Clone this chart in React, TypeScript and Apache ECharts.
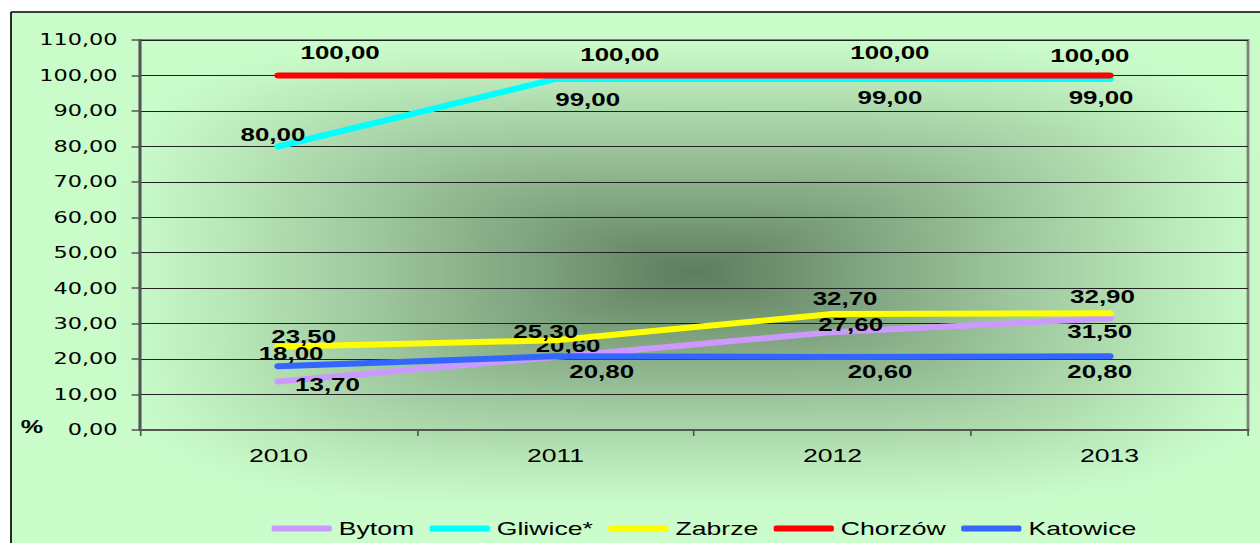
import React, { useEffect, useRef } from "react";
import * as echarts from "echarts";

// ---- data ----
const years = ["2010", "2011", "2012", "2013"];
const seriesNames = ["Bytom", "Gliwice*", "Zabrze", "Chorzów", "Katowice"];
const bytom = [13.7, 20.6, 27.6, 31.5];
const gliwice = [80, 99, 99, 99];
const zabrze = [23.5, 25.3, 32.7, 32.9];
const chorzow = [100, 100, 100, 100];
const katowice = [18, 20.8, 20.6, 20.8];
const yMin = 0;
const yMax = 110;
const yStep = 10;

// ---- layout / style (chart coordinates, stretched by SX afterwards) ----
const SX = 1.4;
const CW = 900;
const CH = 543;
const colors = ["#CC99FF", "#00FFFF", "#FFFF00", "#FF0000", "#3366FF"];
const labelOffsets: number[][][] = [
  [[35, 3], [9, -11], [13, -7], [-7, 14]],
  [[-4, -12], [23, 21], [41, 19], [-6, 19]],
  [[18, -10], [-7, -8], [9, -15], [-5, -17]],
  [[44, -23], [46, -20.5], [41, -23], [-14, -19.5]],
  [[9, -12], [33, 16], [34, 15], [-7, 16]],
];

const fmt = (v: number) => v.toFixed(2).replace(".", ",");

function makeBackground(): string {
  const W = CW, H = CH;
  const c = document.createElement("canvas");
  c.width = W;
  c.height = H;
  const ctx = c.getContext("2d");
  if (!ctx) return "";
  const img = ctx.createImageData(W, H);
  const light = [202, 252, 202];
  const dark = [94, 124, 94];
  const cx = 694, cy = 272, hw = 580, hh = 235, p = 4;
  for (let y = 0; y < H; y++) {
    for (let xc = 0; xc < W; xc++) {
      const x = xc * SX;
      const i = (y * W + xc) * 4;
      if (x < 11 || y < 12) {
        img.data[i] = 255; img.data[i + 1] = 255; img.data[i + 2] = 255; img.data[i + 3] = 255;
        continue;
      }
      const u = Math.abs((x - cx) / hw);
      const v = Math.abs((y - cy) / hh);
      const d = Math.pow(Math.pow(u, p) + Math.pow(v, p), 1 / p);
      let g = Math.max(0, Math.min(1, 1 - d));
      g = Math.pow(g, 1.1);
      img.data[i] = Math.round(light[0] + (dark[0] - light[0]) * g);
      img.data[i + 1] = Math.round(light[1] + (dark[1] - light[1]) * g);
      img.data[i + 2] = Math.round(light[2] + (dark[2] - light[2]) * g);
      img.data[i + 3] = 255;
    }
  }
  ctx.putImageData(img, 0, 0);
  return c.toDataURL("image/png");
}

export default function App() {
  const ref = useRef<HTMLDivElement>(null);
  useEffect(() => {
    if (!ref.current) return;
    const chart = echarts.init(ref.current, undefined, { renderer: "svg", width: CW, height: CH });
    const values = [bytom, gliwice, zabrze, chorzow, katowice];
    const bg = makeBackground();
    const series = seriesNames.map((name, k) => ({
      name,
      type: "line",
      data: values[k].map((v, i) => ({ value: v, label: { offset: labelOffsets[k][i] } })),
      symbol: "circle",
      symbolSize: 5,
      itemStyle: { color: colors[k] },
      lineStyle: { color: colors[k], width: 6, cap: "round", join: "round" },
      label: {
        show: true,
        position: "inside",
        formatter: (pr: any) => fmt(pr.value),
        fontFamily: "Liberation Sans",
        fontWeight: "bold",
        fontSize: 18.5,
        color: "#000",
        textBorderWidth: 0,
      },
      emphasis: { disabled: true },
      z: 3 + k,
    }));
    chart.setOption({
      animation: false,
      backgroundColor: "#ffffff",
      graphic: [
        {
          type: "image",
          silent: true,
          z: -100,
          style: { image: bg, x: 0, y: 0, width: CW, height: CH },
        },
        {
          type: "line",
          silent: true,
          shape: { x1: 11 / SX, y1: 12, x2: 11 / SX, y2: CH },
          style: { stroke: "#000", lineWidth: 1.2 },
        },
        {
          type: "line",
          silent: true,
          shape: { x1: 11 / SX, y1: 12, x2: CW, y2: 12 },
          style: { stroke: "#000", lineWidth: 1.5 },
        },
        {
          type: "text",
          silent: true,
          x: 32 / SX,
          y: 427,
          style: {
            text: "%",
            fontFamily: "Liberation Sans",
            fontWeight: "bold",
            fontSize: 18,
            fill: "#000",
            align: "center",
            verticalAlign: "middle",
          },
        },
      ],
      grid: {
        left: 100,
        right: CW - 1248 / SX,
        top: 40,
        bottom: CH - 430,
        show: true,
        borderColor: "#808080",
        borderWidth: 2,
        backgroundColor: "transparent",
      },
      legend: {
        data: seriesNames,
        left: 189,
        top: 514,
        padding: [5, 5, 5, 5],
        backgroundColor: "#CBFCCB",
        icon: "roundRect",
        itemWidth: 43,
        itemHeight: 6,
        itemGap: 11,
        textStyle: { fontFamily: "Liberation Sans", fontSize: 19, color: "#000" },
      },
      xAxis: {
        type: "category",
        data: years,
        boundaryGap: true,
        axisLine: { lineStyle: { color: "#555", width: 2 } },
        axisTick: { show: true, length: 6, lineStyle: { color: "#555", width: 1.2 } },
        axisLabel: { fontFamily: "Liberation Sans", fontSize: 19, color: "#000", margin: 16 },
        splitLine: { show: false },
      },
      yAxis: {
        type: "value",
        min: yMin,
        max: yMax,
        interval: yStep,
        axisLine: { show: true, lineStyle: { color: "#555", width: 2 } },
        axisTick: { show: true, length: 6, lineStyle: { color: "#555", width: 1.5 } },
        axisLabel: {
          fontFamily: "DejaVu Sans",
          fontSize: 16,
          color: "#000",
          margin: 16,
          formatter: (v: number) => fmt(v),
        },
        splitLine: { show: true, lineStyle: { color: "#222", width: 1.2 } },
      },
      series,
    });
    return () => chart.dispose();
  }, []);
  return (
    <div
      ref={ref}
      style={{
        position: "absolute",
        left: 0,
        top: 0,
        width: CW,
        height: CH,
        transform: `scaleX(${SX})`,
        transformOrigin: "0 0",
      }}
    />
  );
}
